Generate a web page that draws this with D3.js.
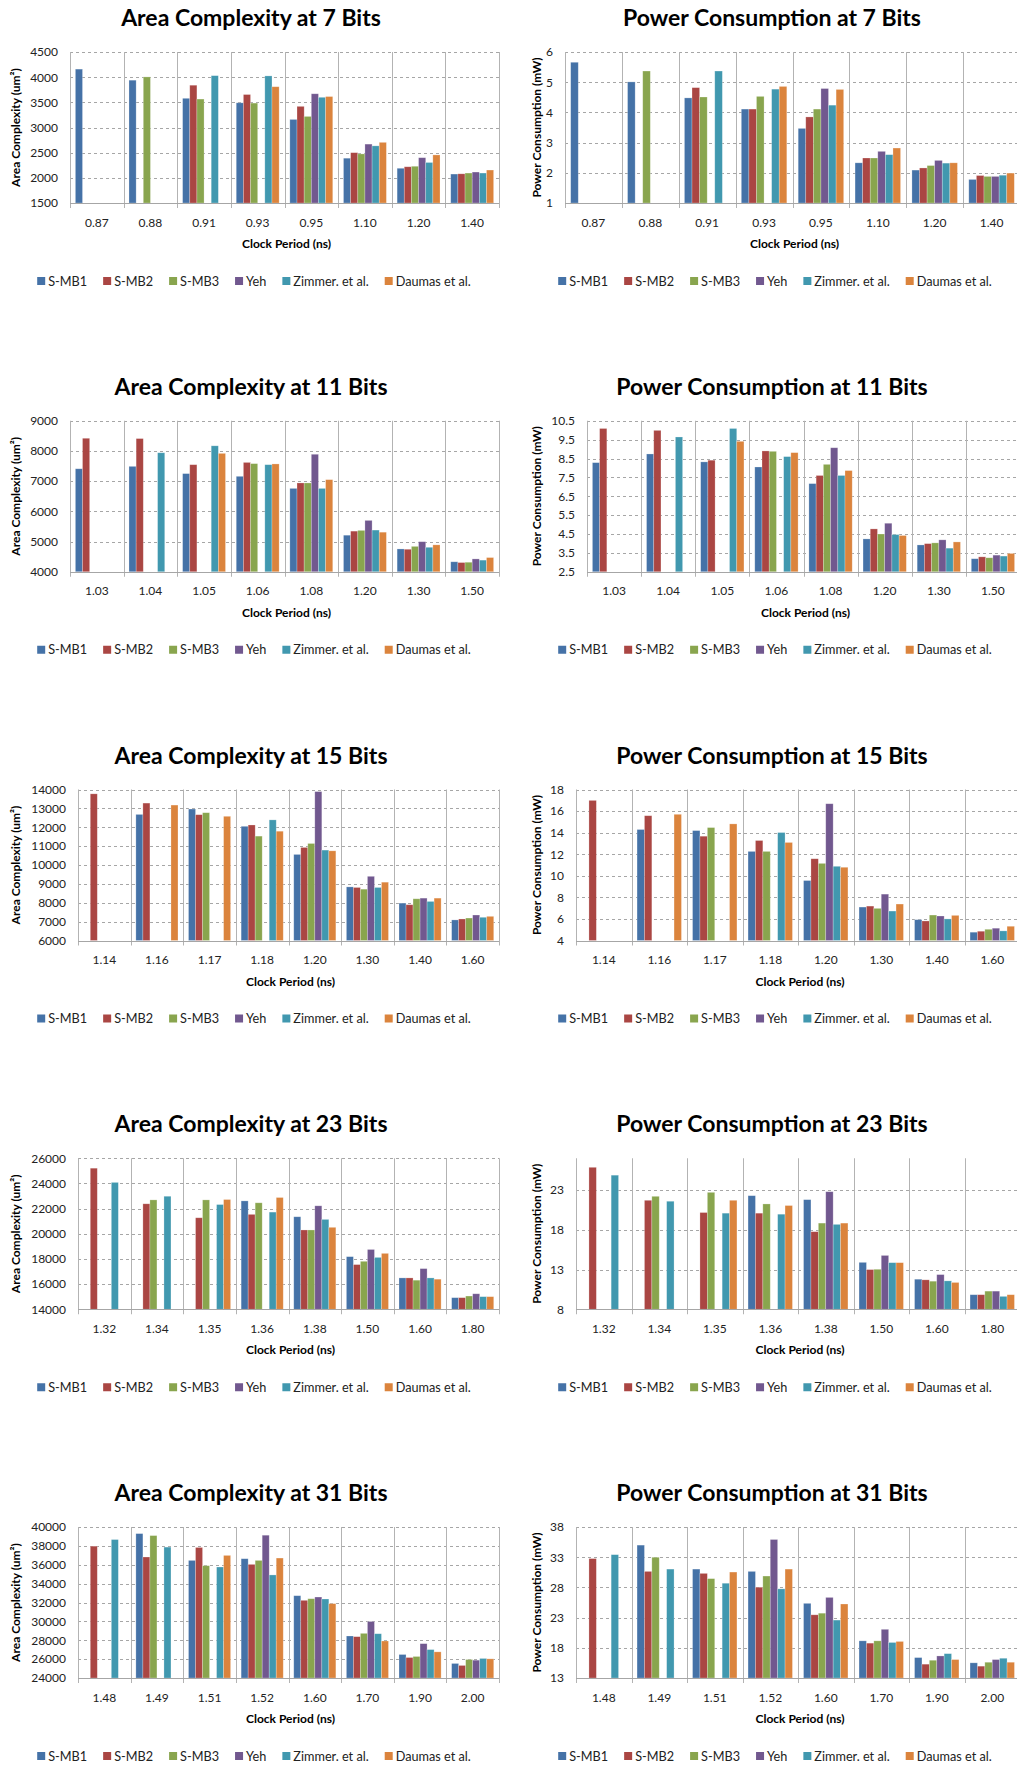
<!DOCTYPE html>
<html>
<head>
<meta charset="utf-8">
<script src="https://cdn.jsdelivr.net/npm/d3@7"></script>
<style>
  body { margin: 0; background: #fff; }
  svg { display: block; font-family: Lato, "Open Sans", sans-serif; }
</style>
</head>
<body>
<svg id="chart" width="1017" height="1766"></svg>
<script>
const seriesNames = ['S-MB1', 'S-MB2', 'S-MB3', 'Yeh', 'Zimmer. et al.', 'Daumas et al.'];
const seriesColors = ['#4572a7', '#aa4643', '#89a54e', '#71588f', '#4198af', '#db843d'];

const cat7 = ['0.87', '0.88', '0.91', '0.93', '0.95', '1.10', '1.20', '1.40'];
const cat11 = ['1.03', '1.04', '1.05', '1.06', '1.08', '1.20', '1.30', '1.50'];
const cat15 = ['1.14', '1.16', '1.17', '1.18', '1.20', '1.30', '1.40', '1.60'];
const cat23 = ['1.32', '1.34', '1.35', '1.36', '1.38', '1.50', '1.60', '1.80'];
const cat31 = ['1.48', '1.49', '1.51', '1.52', '1.60', '1.70', '1.90', '2.00'];

// one row per series (same order as seriesNames), one column per clock period
const area7 = [
  [4160, 3940, 3580, 3490, 3160, 2390, 2190, 2075],
  [null, null, 3840, 3655, 3420, 2500, 2220, 2080],
  [null, 4005, 3565, 3485, 3220, 2475, 2230, 2095],
  [null, null, null, null, 3670, 2670, 2400, 2115],
  [null, null, 4030, 4025, 3600, 2635, 2305, 2095],
  [null, null, null, 3810, 3615, 2705, 2455, 2155]
];
const power7 = [
  [5.66, 5.01, 4.48, 4.11, 3.47, 2.33, 2.09, 1.78],
  [null, null, 4.82, 4.11, 3.85, 2.49, 2.16, 1.91],
  [null, 5.37, 4.51, 4.53, 4.11, 2.49, 2.24, 1.88],
  [null, null, null, null, 4.79, 2.71, 2.41, 1.88],
  [null, null, 5.37, 4.77, 4.24, 2.60, 2.32, 1.92],
  [null, null, null, 4.86, 4.76, 2.82, 2.33, 1.99]
];
const area11 = [
  [7410, 7490, 7250, 7160, 6760, 5210, 4755, 4330],
  [8420, 8410, 7545, 7620, 6940, 5345, 4745, 4305],
  [null, null, null, 7580, 6940, 5370, 4840, 4315],
  [null, null, null, null, 7890, 5700, 4995, 4425],
  [null, 7940, 8170, 7545, 6760, 5380, 4810, 4385],
  [null, null, 7920, 7570, 7050, 5310, 4890, 4470]
];
const power11 = [
  [8.28, 8.74, 8.32, 8.05, 7.17, 4.24, 3.92, 3.19],
  [10.09, 9.99, 8.41, 8.90, 7.60, 4.77, 3.99, 3.29],
  [null, null, null, 8.88, 8.19, 4.50, 4.03, 3.24],
  [null, null, null, null, 9.07, 5.07, 4.19, 3.38],
  [null, 9.64, 10.09, 8.60, 7.60, 4.47, 3.75, 3.33],
  [null, null, 9.41, 8.81, 7.86, 4.42, 4.08, 3.47]
];
const area15 = [
  [null, 12680, 12965, 12050, 10560, 8840, 7980, 7090],
  [13770, 13280, 12665, 12120, 10930, 8810, 7895, 7140],
  [null, null, 12770, 11530, 11140, 8720, 8210, 7190],
  [null, null, null, null, 13890, 9400, 8245, 7350],
  [null, null, null, 12390, 10790, 8810, 8070, 7230],
  [null, 13175, 12580, 11790, 10750, 9090, 8245, 7280]
];
const power15 = [
  [null, 14.29, 14.19, 12.26, 9.56, 7.10, 5.93, 4.77],
  [16.99, 15.57, 13.67, 13.27, 11.58, 7.19, 5.81, 4.86],
  [null, null, 14.47, 12.26, 11.15, 6.98, 6.36, 5.04],
  [null, null, null, null, 16.68, 8.30, 6.27, 5.14],
  [null, null, null, 14.01, 10.88, 6.73, 6.00, 4.89],
  [null, 15.70, 14.81, 13.09, 10.79, 7.38, 6.33, 5.32]
];
const area23 = [
  [null, null, null, 22610, 21350, 18180, 16490, 14920],
  [25210, 22380, 21270, 21540, 20300, 17550, 16490, 14920],
  [null, 22690, 22690, 22460, 20300, 17810, 16310, 15050],
  [null, null, null, null, 22220, 18750, 17230, 15230],
  [24080, 22980, 22320, 21720, 21140, 18120, 16490, 15000],
  [null, null, 22720, 22880, 20510, 18440, 16390, 15000]
];
const power23 = [
  [null, null, null, 22.29, 21.79, 13.90, 11.78, 9.83],
  [25.86, 21.71, 20.17, 20.09, 17.76, 12.99, 11.70, 9.83],
  [null, 22.21, 22.71, 21.25, 18.84, 13.03, 11.53, 10.28],
  [null, null, null, null, 22.79, 14.77, 12.36, 10.28],
  [24.87, 21.59, 20.09, 19.96, 18.68, 13.86, 11.57, 9.62],
  [null, null, 21.71, 21.05, 18.84, 13.86, 11.37, 9.83]
];
const area31 = [
  [null, 39300, 36460, 36640, 32720, 28450, 26490, 25540],
  [37970, 36820, 37830, 36040, 32230, 28380, 26170, 25330],
  [null, 39090, 35900, 36460, 32400, 28730, 26280, 25960],
  [null, null, null, 39130, 32580, 29990, 27640, 25890],
  [38670, 37870, 35760, 34920, 32370, 28690, 27010, 26070],
  [null, null, 36990, 36710, 31880, 27920, 26770, 26030]
];
const power31 = [
  [null, 35.00, 31.03, 30.65, 25.36, 19.15, 16.38, 15.51],
  [32.77, 30.65, 30.32, 28.03, 23.46, 18.77, 15.29, 14.96],
  [null, 32.99, 29.45, 29.88, 23.73, 19.15, 15.94, 15.61],
  [null, null, null, 35.93, 26.34, 21.06, 16.65, 16.05],
  [33.42, 31.03, 28.69, 27.76, 22.59, 18.88, 17.03, 16.27],
  [null, null, 30.54, 31.03, 25.25, 19.05, 16.05, 15.61]
];

const area7Ticks = [1500, 2000, 2500, 3000, 3500, 4000, 4500];
const power7Ticks = [1, 2, 3, 4, 5, 6];
const area11Ticks = [4000, 5000, 6000, 7000, 8000, 9000];
const power11Ticks = [2.5, 3.5, 4.5, 5.5, 6.5, 7.5, 8.5, 9.5, 10.5];
const area15Ticks = [6000, 7000, 8000, 9000, 10000, 11000, 12000, 13000, 14000];
const power15Ticks = [4, 6, 8, 10, 12, 14, 16, 18];
const area23Ticks = [14000, 16000, 18000, 20000, 22000, 24000, 26000];
const power23Ticks = [8, 13, 18, 23];
const power23Max = 27;
const area31Ticks = [24000, 26000, 28000, 30000, 32000, 34000, 36000, 38000, 40000];
const power31Ticks = [13, 18, 23, 28, 33, 38];

const areaTitle = 'Area Complexity (um\u00b2)';
const powerTitle = 'Power Consumption (mW)';

const charts = [
  {bits: 7, kind: 'Area Complexity', yTitle: areaTitle, cats: cat7, values: area7, ticks: area7Ticks, row: 0, col: 0, left: 70},
  {bits: 7, kind: 'Power Consumption', yTitle: powerTitle, cats: cat7, values: power7, ticks: power7Ticks, row: 0, col: 1, left: 44},
  {bits: 11, kind: 'Area Complexity', yTitle: areaTitle, cats: cat11, values: area11, ticks: area11Ticks, row: 1, col: 0, left: 70},
  {bits: 11, kind: 'Power Consumption', yTitle: powerTitle, cats: cat11, values: power11, ticks: power11Ticks, row: 1, col: 1, left: 66},
  {bits: 15, kind: 'Area Complexity', yTitle: areaTitle, cats: cat15, values: area15, ticks: area15Ticks, row: 2, col: 0, left: 78},
  {bits: 15, kind: 'Power Consumption', yTitle: powerTitle, cats: cat15, values: power15, ticks: power15Ticks, row: 2, col: 1, left: 55},
  {bits: 23, kind: 'Area Complexity', yTitle: areaTitle, cats: cat23, values: area23, ticks: area23Ticks, row: 3, col: 0, left: 78},
  {bits: 23, kind: 'Power Consumption', yTitle: powerTitle, cats: cat23, values: power23, ticks: power23Ticks, max: power23Max, row: 3, col: 1, left: 55},
  {bits: 31, kind: 'Area Complexity', yTitle: areaTitle, cats: cat31, values: area31, ticks: area31Ticks, row: 4, col: 0, left: 78},
  {bits: 31, kind: 'Power Consumption', yTitle: powerTitle, cats: cat31, values: power31, ticks: power31Ticks, row: 4, col: 1, left: 55}
];

const svg = d3.select('#chart');
const gridColor = '#a6a6a6';

function drawChart(c) {
  const g = svg.append('g').attr('transform', `translate(${c.col * 521},0)`);
  const top = 52 + c.row * 368.75;
  const bottom = top + 151;
  const right = 499;

  const x = d3.scaleBand().domain(c.cats).range([c.left, right]);
  const inner = d3.scaleBand().domain(seriesNames).range([0, x.bandwidth()]).paddingOuter(0.75);
  const y = d3.scaleLinear()
    .domain([c.ticks[0], c.max || c.ticks[c.ticks.length - 1]])
    .range([bottom, top]);

  g.append('g').selectAll('line').data(c.ticks.slice(1)).join('line')
    .attr('x1', c.left).attr('x2', right)
    .attr('y1', d => Math.round(y(d)) + 0.5).attr('y2', d => Math.round(y(d)) + 0.5)
    .attr('stroke', gridColor).attr('stroke-dasharray', '3,3');

  const bounds = c.cats.map(d => x(d)).concat([right]);
  g.append('g').selectAll('line').data(bounds).join('line')
    .attr('x1', d => Math.round(d) + 0.5).attr('x2', d => Math.round(d) + 0.5)
    .attr('y1', top).attr('y2', bottom + 5)
    .attr('stroke', '#b3b3b3');

  c.values.forEach((vals, si) => {
    const pts = vals.map((v, i) => ({cat: c.cats[i], v})).filter(d => d.v != null);
    g.append('g').selectAll('rect').data(pts).join('rect')
      .attr('x', d => x(d.cat) + inner(seriesNames[si]))
      .attr('width', inner.bandwidth())
      .attr('y', d => y(d.v))
      .attr('height', d => bottom - y(d.v))
      .attr('fill', seriesColors[si])
      .attr('stroke', '#fff').attr('stroke-opacity', 0.35).attr('stroke-width', 0.7);
  });

  g.append('line')
    .attr('x1', c.left).attr('x2', right)
    .attr('y1', Math.round(bottom) + 0.5).attr('y2', Math.round(bottom) + 0.5)
    .attr('stroke', gridColor);

  const yAxis = g.append('g').attr('transform', `translate(${c.left},0)`)
    .call(d3.axisLeft(y).tickValues(c.ticks).tickFormat(d => String(d)).tickSize(0).tickPadding(12));
  yAxis.select('.domain').remove();
  yAxis.selectAll('text').attr('font-size', 12).attr('fill', '#222').style('font-family', 'Lato');

  const xAxis = g.append('g').attr('transform', `translate(0,${bottom})`)
    .call(d3.axisBottom(x).tickSize(0).tickPadding(15));
  xAxis.select('.domain').remove();
  xAxis.selectAll('text').attr('font-size', 12).attr('fill', '#222').style('font-family', 'Lato');

  g.append('text')
    .attr('x', 251).attr('y', top - 26)
    .attr('text-anchor', 'middle')
    .attr('font-size', 23).attr('font-weight', 'bold')
    .text(`${c.kind} at ${c.bits} Bits`);

  g.append('text')
    .attr('x', (c.left + right) / 2 + 2).attr('y', bottom + 45)
    .attr('text-anchor', 'middle')
    .attr('font-size', 12).attr('font-weight', 'bold')
    .text('Clock Period (ns)');

  g.append('text')
    .attr('transform', `translate(20,${(top + bottom) / 2}) rotate(-90)`)
    .attr('text-anchor', 'middle')
    .attr('font-size', 12).attr('font-weight', 'bold')
    .text(c.yTitle);

  const legend = g.append('g');
  const ly = bottom + 78;
  let lx = 0;
  seriesNames.forEach((name, i) => {
    const item = legend.append('g').attr('transform', `translate(${lx},0)`);
    item.append('rect').attr('x', 0).attr('y', ly - 4).attr('width', 8).attr('height', 8)
      .attr('fill', seriesColors[i]);
    const t = item.append('text').attr('x', 11).attr('y', ly + 4.5)
      .attr('font-size', 12.7).attr('fill', '#222').text(name);
    lx += 11 + t.node().getComputedTextLength() + 16;
  });
  const legendWidth = lx - 16;
  legend.attr('transform', `translate(${254 - legendWidth / 2},0)`);
}

charts.forEach(drawChart);
</script>
</body>
</html>
